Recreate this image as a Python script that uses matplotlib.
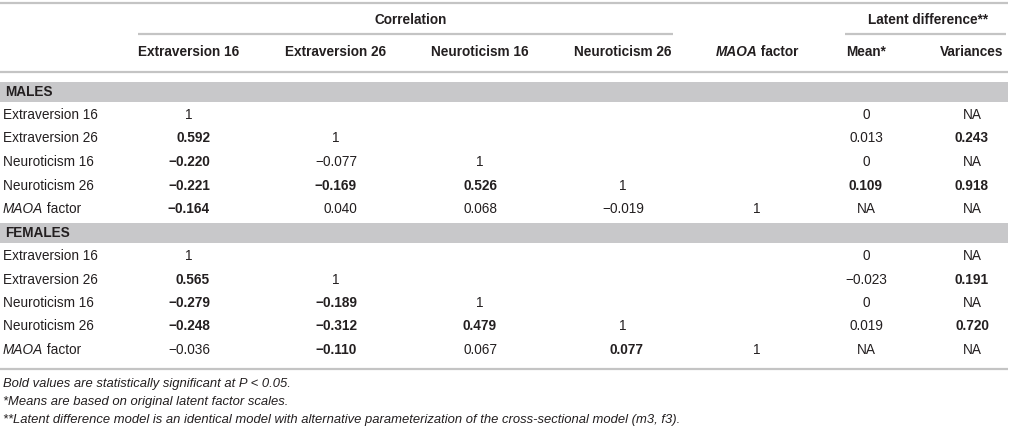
import matplotlib
matplotlib.use('Agg')
import matplotlib.pyplot as plt
from matplotlib.patches import Rectangle

plt.rcParams['font.family'] = ['Liberation Sans', 'DejaVu Sans']

W, H, DPI = 1015, 428, 100
TXT = '#231f20'
RULE = '#c4c4c4'
BAND = '#c8c8ca'
FS = 9.8
FS_NOTE = 9.4

# ---------------- data ----------------
row_labels = ['Extraversion 16', 'Extraversion 26', 'Neuroticism 16', 'Neuroticism 26', 'MAOA factor']
corr_headers = ['Extraversion 16', 'Extraversion 26', 'Neuroticism 16', 'Neuroticism 26', 'MAOA factor']
latent_headers = ['Mean*', 'Variances']
group_names = ['MALES', 'FEMALES']

males_corr = [[1], [0.592, 1], [-0.220, -0.077, 1], [-0.221, -0.169, 0.526, 1],
              [-0.164, 0.040, 0.068, -0.019, 1]]
males_corr_bold = [[False], [True, False], [True, False, False], [True, True, True, False],
                   [True, False, False, False, False]]
males_mean = [0, 0.013, 0, 0.109, None]
males_mean_bold = [False, False, False, True, False]
males_var = [None, 0.243, None, 0.918, None]
males_var_bold = [False, True, False, True, False]

females_corr = [[1], [0.565, 1], [-0.279, -0.189, 1], [-0.248, -0.312, 0.479, 1],
                [-0.036, -0.110, 0.067, 0.077, 1]]
females_corr_bold = [[False], [True, False], [True, True, False], [True, True, True, False],
                     [False, True, False, True, False]]
females_mean = [0, -0.023, 0, 0.019, None]
females_mean_bold = [False, False, False, False, False]
females_var = [None, 0.191, None, 0.720, None]
females_var_bold = [False, True, False, True, False]

footnotes = ['Bold values are statistically significant at P < 0.05.',
             '*Means are based on original latent factor scales.',
             '**Latent difference model is an identical model with alternative parameterization '
             'of the cross-sectional model (m3, f3).']

groups = [
    (males_corr, males_corr_bold, males_mean, males_mean_bold, males_var, males_var_bold),
    (females_corr, females_corr_bold, females_mean, females_mean_bold, females_var, females_var_bold),
]

# ---------------- layout ----------------
col_x = [189, 336, 480, 623, 757]
mean_x, var_x = 866, 972
corr_span = (138, 673)
latent_span = (845, 1006)
y_top_rule, y_span_title, y_span_rule, y_header, y_header_rule = 2.5, 20, 34, 52, 72
y_first_band = 91.5
row_step = 23.5
band_h = 20
y_bottom_rule = 369
y_notes = [384, 402, 420]
x_left, x_right = 0, 1008


def fmt(v):
    if v is None:
        return 'NA'
    if isinstance(v, int):
        return str(v)
    s = f'{abs(v):.3f}'
    return ('\u2212' + s) if v < 0 else s


fig = plt.figure(figsize=(W / DPI, H / DPI), dpi=DPI)
ax = fig.add_axes([0, 0, 1, 1])
ax.set_xlim(0, W)
ax.set_ylim(H, 0)
ax.axis('off')
renderer = fig.canvas.get_renderer()


def text_width(s, weight='normal', style='normal', size=FS):
    t = ax.text(0, 0, s, fontsize=size, fontweight=weight, fontstyle=style)
    w = t.get_window_extent(renderer=renderer).width
    t.remove()
    return w


def rich(x, y, parts, ha='left', size=FS):
    widths = [text_width(s, w, st, size) for s, w, st in parts]
    total = sum(widths)
    x0 = x - total / 2 if ha == 'center' else x
    for (s, w, st), wd in zip(parts, widths):
        ax.text(x0, y, s, fontsize=size, fontweight=w, fontstyle=st, color=TXT,
                ha='left', va='center')
        x0 += wd


def hrule(x0, x1, y, lw=1.6):
    ax.plot([x0, x1], [y, y], color=RULE, lw=lw, solid_capstyle='butt')


# rules
hrule(x_left, x_right, y_top_rule)
hrule(*corr_span, y_span_rule)
hrule(*latent_span, y_span_rule)
hrule(x_left, x_right, y_header_rule)
hrule(x_left, x_right, y_bottom_rule)

# spanning titles
ax.text(sum(corr_span) / 2 + 5, y_span_title, 'Correlation', fontsize=FS, fontweight='bold',
        color=TXT, ha='center', va='center')
ax.text(sum(latent_span) / 2 + 3, y_span_title, 'Latent difference**', fontsize=FS,
        fontweight='bold', color=TXT, ha='center', va='center')

# column headers
for x, h in zip(col_x, corr_headers):
    if h.startswith('MAOA'):
        rich(x, y_header, [('MAOA', 'bold', 'italic'), (' factor', 'bold', 'normal')], ha='center')
    else:
        ax.text(x, y_header, h, fontsize=FS, fontweight='bold', color=TXT, ha='center', va='center')
for x, h in zip([mean_x, var_x], latent_headers):
    ax.text(x, y_header, h, fontsize=FS, fontweight='bold', color=TXT, ha='center', va='center')

# right edges for decimal columns
right_edge = []
for j in range(len(col_x)):
    ws = []
    for g in groups:
        corr, cb = g[0], g[1]
        for i in range(len(corr)):
            if j < len(corr[i]) and not isinstance(corr[i][j], int):
                ws.append(text_width(fmt(corr[i][j]), 'bold' if cb[i][j] else 'normal'))
    right_edge.append(col_x[j] + (max(ws) / 2 if ws else 0))

# body
for gi, (g, name) in enumerate(zip(groups, group_names)):
    corr, cb, mean, mb, var, vb = g
    yb = y_first_band + gi * 6 * row_step
    ax.add_patch(Rectangle((x_left, yb - band_h / 2), x_right - x_left, band_h,
                           facecolor=BAND, edgecolor='none'))
    ax.text(5, yb, name, fontsize=FS, fontweight='bold', color=TXT, ha='left', va='center')
    for i, lab in enumerate(row_labels):
        y = yb + (i + 1) * row_step
        if lab.startswith('MAOA'):
            rich(3, y, [('MAOA', 'normal', 'italic'), (' factor', 'normal', 'normal')])
        else:
            ax.text(3, y, lab, fontsize=FS, color=TXT, ha='left', va='center')
        for j, v in enumerate(corr[i]):
            w = 'bold' if cb[i][j] else 'normal'
            if isinstance(v, int):
                ax.text(col_x[j], y, fmt(v), fontsize=FS, fontweight=w, color=TXT,
                        ha='center', va='center')
            else:
                ax.text(right_edge[j], y, fmt(v), fontsize=FS, fontweight=w, color=TXT,
                        ha='right', va='center')
        ax.text(mean_x, y, fmt(mean[i]), fontsize=FS, fontweight='bold' if mb[i] else 'normal',
                color=TXT, ha='center', va='center')
        ax.text(var_x, y, fmt(var[i]), fontsize=FS, fontweight='bold' if vb[i] else 'normal',
                color=TXT, ha='center', va='center')

# footnotes
for y, s in zip(y_notes, footnotes):
    ax.text(3, y, s, fontsize=FS_NOTE, fontstyle='italic', color=TXT, ha='left', va='center')

fig.savefig('out.png', dpi=DPI)
